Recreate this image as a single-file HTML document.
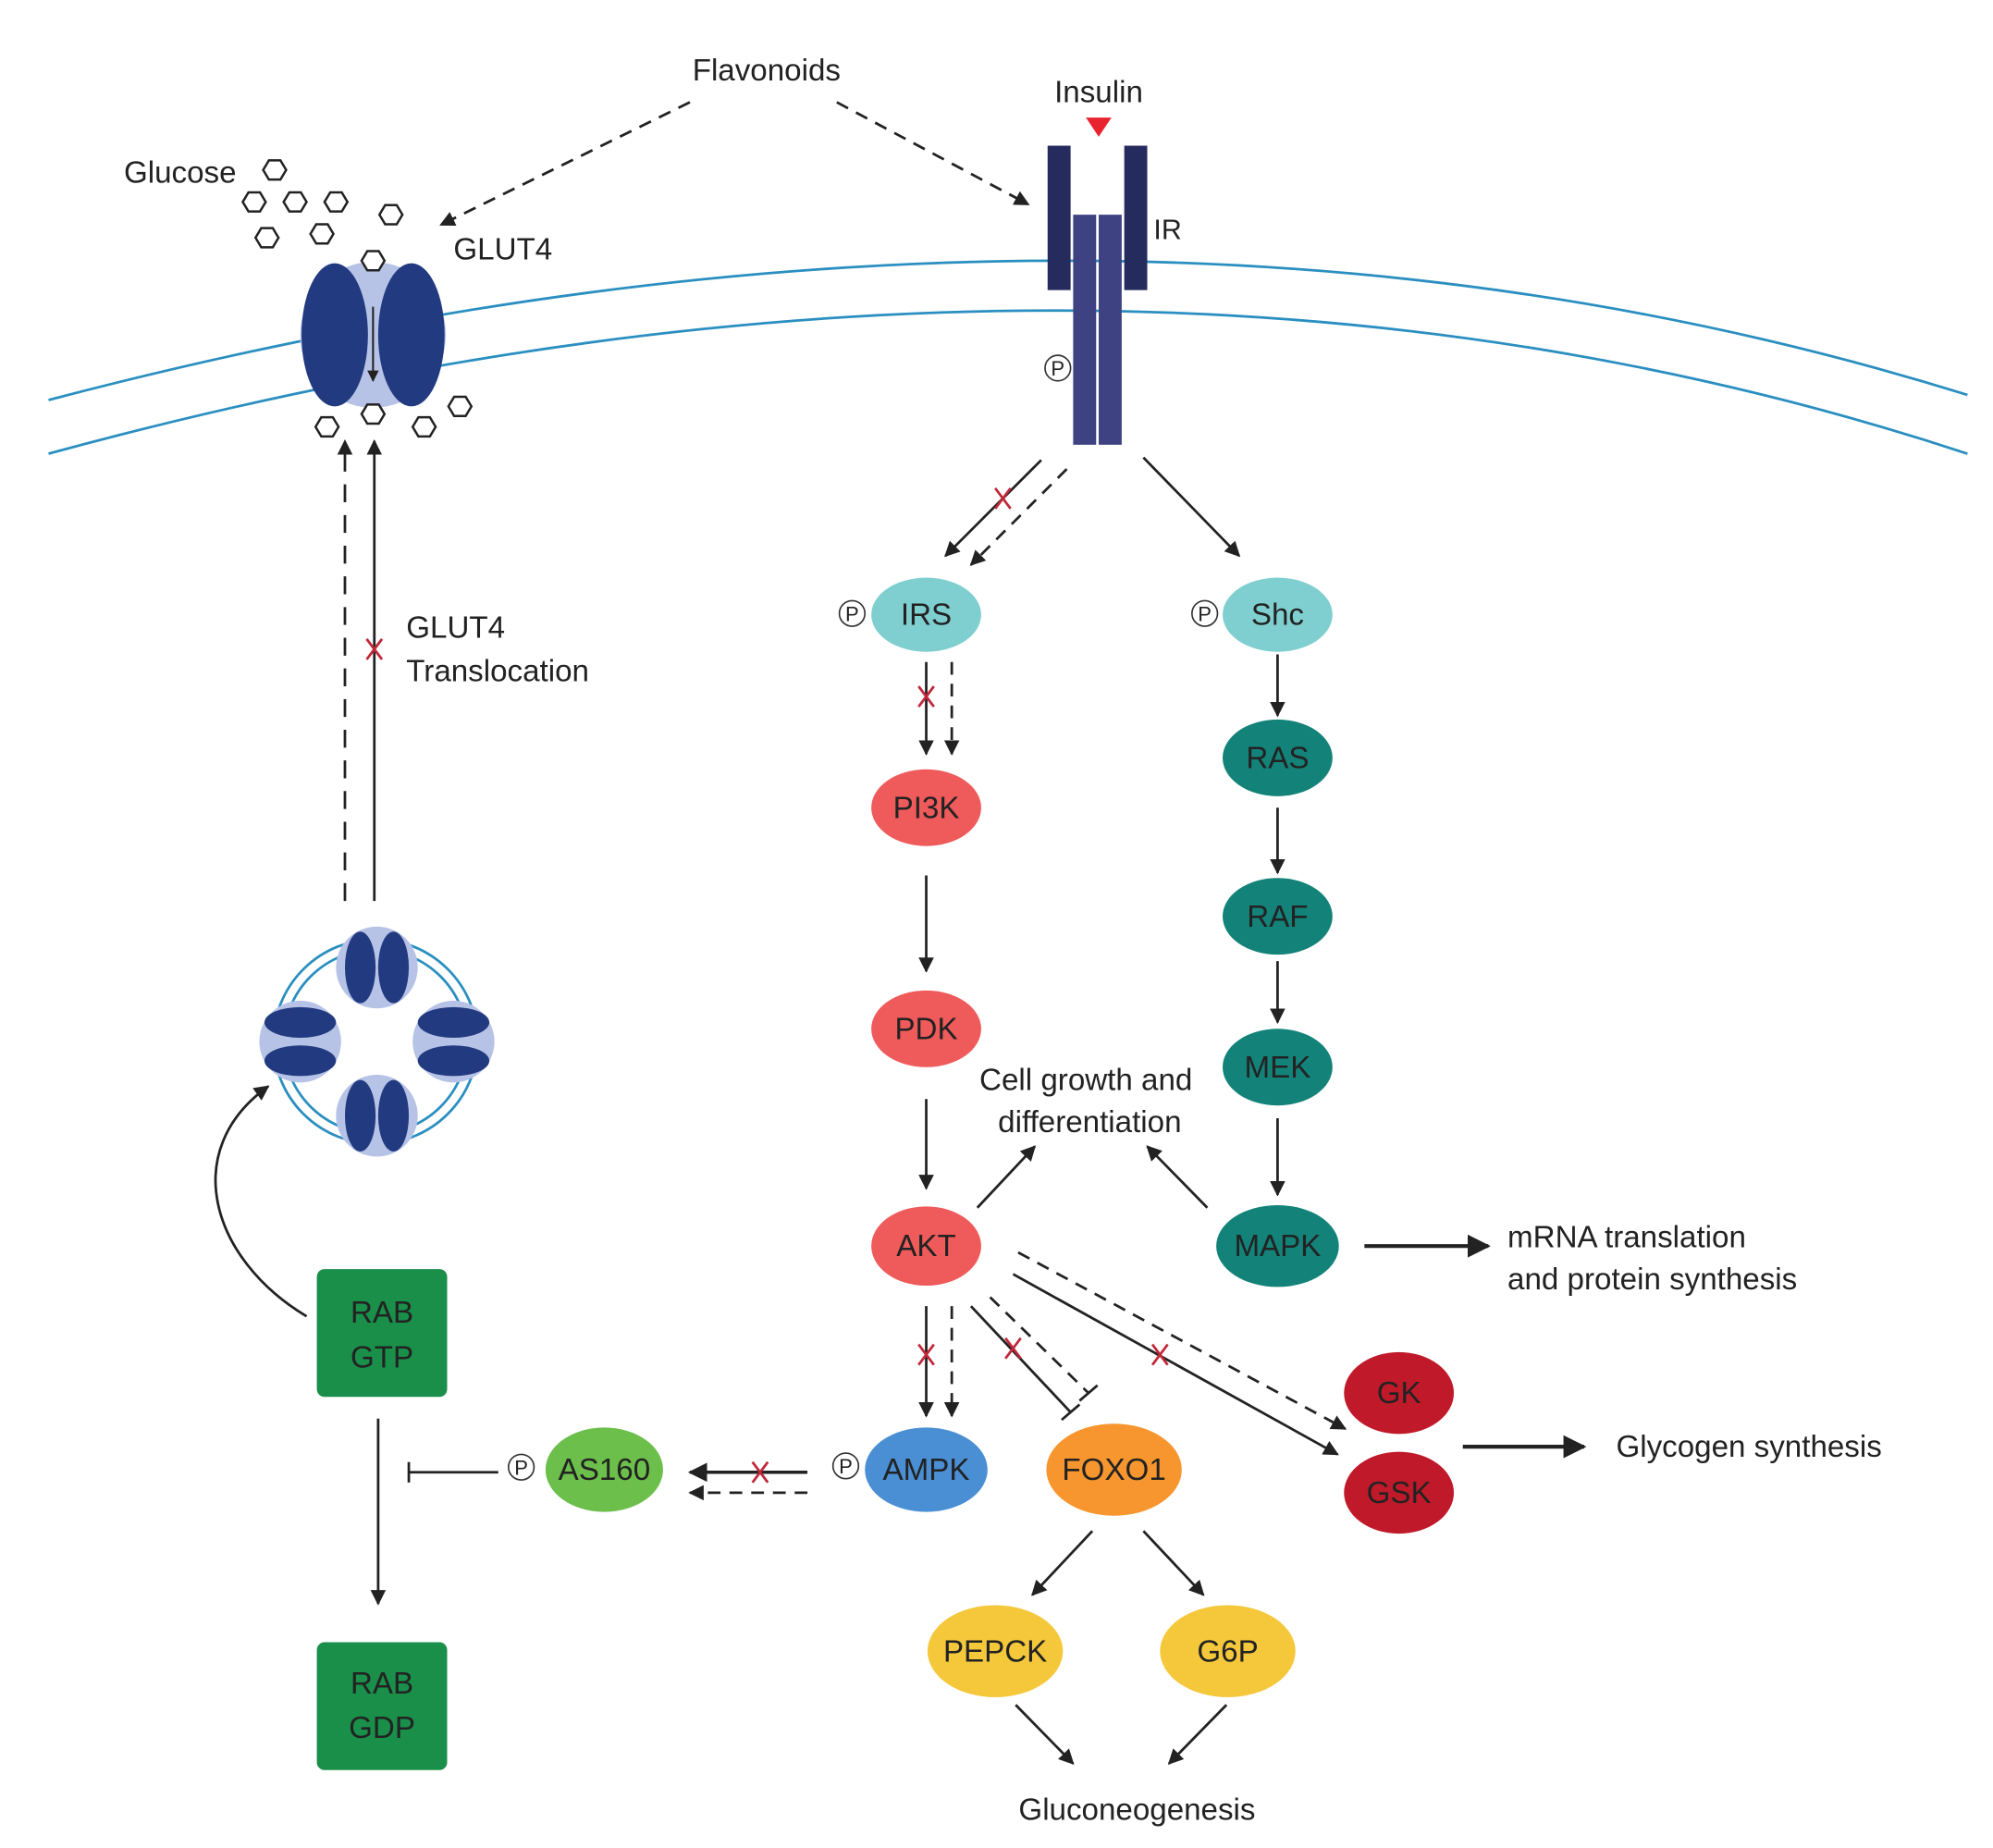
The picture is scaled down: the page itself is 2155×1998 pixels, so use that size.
<!DOCTYPE html>
<html><head><meta charset="utf-8"><style>
html,body{margin:0;padding:0;background:#fff;}
svg{display:block}
text{font-family:"Liberation Sans Narrow","Liberation Sans",sans-serif;fill:#222;}
</style></head><body>
<svg width="2155" height="1998" viewBox="0 0 1560 1446" preserveAspectRatio="none" xmlns="http://www.w3.org/2000/svg">
<defs>
<marker id="a" viewBox="0 0 10 10" refX="9" refY="5" markerWidth="6" markerHeight="6" orient="auto-start-reverse"><path d="M0,0 L10,5 L0,10 z" fill="#222"/></marker>
<g id="hex"><polygon points="-9,0 -4.5,-7.5 4.5,-7.5 9,0 4.5,7.5 -4.5,7.5" fill="#fff" stroke="#222" stroke-width="1.8"/></g>
<g id="P"><circle r="10" fill="#fff" stroke="#333" stroke-width="1.2"/><text y="6" text-anchor="middle" font-size="16">P</text></g>
<g id="X"><path d="M-6,-8 L6,8 M6,-8 L-6,8" stroke="#c0283a" stroke-width="2"/></g>
</defs>

<!-- membrane -->
<path d="M38,313 Q860,97 1540,309" fill="none" stroke="#2a8fc0" stroke-width="2"/>
<path d="M38,355 Q860,131 1540,355" fill="none" stroke="#2a8fc0" stroke-width="2"/>

<text x="600" y="63" text-anchor="middle" font-size="24">Flavonoids</text>
<text x="860" y="80" text-anchor="middle" font-size="24">Insulin</text>
<polygon points="850,92 870,92 860,107" fill="#e8222e"/>
<text x="97" y="143" font-size="24">Glucose</text>
<text x="355" y="203" font-size="24">GLUT4</text>
<text x="903" y="187" font-size="22">IR</text>

<line x1="540" y1="80" x2="345" y2="176" stroke="#222" stroke-width="2" stroke-dasharray="10,7" marker-end="url(#a)"/>
<line x1="655" y1="80" x2="805" y2="160" stroke="#222" stroke-width="2" stroke-dasharray="10,7" marker-end="url(#a)"/>

<!-- IR -->
<rect x="820" y="114" width="18" height="113" fill="#262b5e"/>
<rect x="880" y="114" width="18" height="113" fill="#262b5e"/>
<rect x="840" y="168" width="18" height="180" fill="#3e4282"/>
<rect x="860" y="168" width="18" height="180" fill="#3e4282"/>
<use href="#P" x="828" y="288"/>

<!-- GLUT4 transporter -->
<circle cx="292" cy="262" r="57" fill="#b7c3e6"/>
<ellipse cx="262" cy="262" rx="26" ry="56" fill="#223a80"/>
<ellipse cx="322" cy="262" rx="26" ry="56" fill="#223a80"/>
<line x1="292" y1="240" x2="292" y2="298" stroke="#222" stroke-width="1.5" marker-end="url(#a)"/>
<use href="#hex" x="215" y="133"/><use href="#hex" x="199" y="158"/><use href="#hex" x="231" y="158"/><use href="#hex" x="263" y="158"/>
<use href="#hex" x="306" y="168"/><use href="#hex" x="209" y="186"/><use href="#hex" x="252" y="183"/><use href="#hex" x="292" y="204"/>
<use href="#hex" x="256" y="334"/><use href="#hex" x="292" y="324"/><use href="#hex" x="332" y="334"/><use href="#hex" x="360" y="318"/>

<!-- translocation -->
<line x1="270" y1="705" x2="270" y2="345" stroke="#222" stroke-width="2" stroke-dasharray="14,10" marker-end="url(#a)"/>
<line x1="293" y1="705" x2="293" y2="345" stroke="#222" stroke-width="2" marker-end="url(#a)"/>
<use href="#X" x="293" y="508"/>
<text x="318" y="499" font-size="24">GLUT4</text>
<text x="318" y="533" font-size="24">Translocation</text>

<!-- vesicle -->
<circle cx="294" cy="815" r="80" fill="none" stroke="#2a8fc0" stroke-width="2"/>
<circle cx="294" cy="815" r="72" fill="none" stroke="#2a8fc0" stroke-width="2"/>
<circle cx="295" cy="757" r="32" fill="#b7c3e6"/><ellipse cx="282" cy="757" rx="12" ry="28" fill="#223a80"/><ellipse cx="308" cy="757" rx="12" ry="28" fill="#223a80"/>
<circle cx="295" cy="873" r="32" fill="#b7c3e6"/><ellipse cx="282" cy="873" rx="12" ry="28" fill="#223a80"/><ellipse cx="308" cy="873" rx="12" ry="28" fill="#223a80"/>
<circle cx="235" cy="815" r="32" fill="#b7c3e6"/><ellipse cx="235" cy="800" rx="28" ry="12" fill="#223a80"/><ellipse cx="235" cy="830" rx="28" ry="12" fill="#223a80"/>
<circle cx="355" cy="815" r="32" fill="#b7c3e6"/><ellipse cx="355" cy="800" rx="28" ry="12" fill="#223a80"/><ellipse cx="355" cy="830" rx="28" ry="12" fill="#223a80"/>

<path d="M240,1030 C165,985 140,900 210,850" fill="none" stroke="#222" stroke-width="2" marker-end="url(#a)"/>

<rect x="248" y="993" width="102" height="100" rx="6" fill="#1a8f4a"/>
<text x="299" y="1035" text-anchor="middle" font-size="24">RAB</text>
<text x="299" y="1070" text-anchor="middle" font-size="24">GTP</text>
<rect x="248" y="1285" width="102" height="100" rx="6" fill="#1a8f4a"/>
<text x="299" y="1325" text-anchor="middle" font-size="24">RAB</text>
<text x="299" y="1360" text-anchor="middle" font-size="24">GDP</text>
<line x1="296" y1="1110" x2="296" y2="1255" stroke="#222" stroke-width="2" marker-end="url(#a)"/>
<line x1="390" y1="1152" x2="320" y2="1152" stroke="#222" stroke-width="2"/>
<line x1="320" y1="1144" x2="320" y2="1160" stroke="#222" stroke-width="2"/>

<!-- nodes -->
<g font-size="24">
<ellipse cx="725" cy="481" rx="43" ry="29" fill="#7fcfd0"/><text x="725" y="489" text-anchor="middle">IRS</text>
<use href="#P" x="667" y="480"/>
<ellipse cx="1000" cy="481" rx="43" ry="29" fill="#7fcfd0"/><text x="1000" y="489" text-anchor="middle">Shc</text>
<use href="#P" x="943" y="480"/>
<ellipse cx="725" cy="632" rx="43" ry="30" fill="#ef5a5a"/><text x="725" y="640" text-anchor="middle">PI3K</text>
<ellipse cx="725" cy="805" rx="43" ry="30" fill="#ef5a5a"/><text x="725" y="813" text-anchor="middle">PDK</text>
<ellipse cx="725" cy="975" rx="43" ry="31" fill="#ef5a5a"/><text x="725" y="983" text-anchor="middle">AKT</text>
<ellipse cx="1000" cy="593" rx="43" ry="30" fill="#13837a"/><text x="1000" y="601" text-anchor="middle">RAS</text>
<ellipse cx="1000" cy="717" rx="43" ry="30" fill="#13837a"/><text x="1000" y="725" text-anchor="middle">RAF</text>
<ellipse cx="1000" cy="835" rx="43" ry="30" fill="#13837a"/><text x="1000" y="843" text-anchor="middle">MEK</text>
<ellipse cx="1000" cy="975" rx="48" ry="32" fill="#13837a"/><text x="1000" y="983" text-anchor="middle">MAPK</text>
<ellipse cx="473" cy="1150" rx="46" ry="33" fill="#6cbf4a"/><text x="473" y="1158" text-anchor="middle">AS160</text>
<use href="#P" x="408" y="1148"/>
<ellipse cx="725" cy="1150" rx="48" ry="33" fill="#4a8fd4"/><text x="725" y="1158" text-anchor="middle">AMPK</text>
<use href="#P" x="662" y="1147"/>
<ellipse cx="872" cy="1150" rx="53" ry="36" fill="#f7962e"/><text x="872" y="1158" text-anchor="middle">FOXO1</text>
<ellipse cx="1095" cy="1090" rx="43" ry="32" fill="#c01a2a"/><text x="1095" y="1098" text-anchor="middle">GK</text>
<ellipse cx="1095" cy="1168" rx="43" ry="32" fill="#c01a2a"/><text x="1095" y="1176" text-anchor="middle">GSK</text>
<ellipse cx="779" cy="1292" rx="53" ry="36" fill="#f5c83c"/><text x="779" y="1300" text-anchor="middle">PEPCK</text>
<ellipse cx="961" cy="1292" rx="53" ry="36" fill="#f5c83c"/><text x="961" y="1300" text-anchor="middle">G6P</text>
<text x="850" y="853" text-anchor="middle">Cell growth and</text>
<text x="853" y="886" text-anchor="middle">differentiation</text>
<text x="1180" y="976">mRNA translation</text>
<text x="1180" y="1009">and protein synthesis</text>
<text x="1265" y="1140">Glycogen synthesis</text>
<text x="890" y="1424" text-anchor="middle">Gluconeogenesis</text>
</g>

<!-- connectors -->
<g stroke="#222" stroke-width="2" fill="none">
<line x1="815" y1="360" x2="740" y2="435" marker-end="url(#a)"/>
<line x1="835" y1="367" x2="760" y2="442" stroke-dasharray="10,7" marker-end="url(#a)"/>
<line x1="895" y1="358" x2="970" y2="435" marker-end="url(#a)"/>
<line x1="725" y1="518" x2="725" y2="590" marker-end="url(#a)"/>
<line x1="745" y1="518" x2="745" y2="590" stroke-dasharray="10,7" marker-end="url(#a)"/>
<line x1="725" y1="685" x2="725" y2="760" marker-end="url(#a)"/>
<line x1="725" y1="860" x2="725" y2="930" marker-end="url(#a)"/>
<line x1="1000" y1="512" x2="1000" y2="560" marker-end="url(#a)"/>
<line x1="1000" y1="632" x2="1000" y2="683" marker-end="url(#a)"/>
<line x1="1000" y1="752" x2="1000" y2="800" marker-end="url(#a)"/>
<line x1="1000" y1="875" x2="1000" y2="935" marker-end="url(#a)"/>
<line x1="765" y1="945" x2="810" y2="897" marker-end="url(#a)"/>
<line x1="945" y1="945" x2="898" y2="897" marker-end="url(#a)"/>
<line x1="1068" y1="975" x2="1165" y2="975" stroke-width="3" marker-end="url(#a)"/>
<line x1="725" y1="1022" x2="725" y2="1108" marker-end="url(#a)"/>
<line x1="745" y1="1022" x2="745" y2="1108" stroke-dasharray="10,7" marker-end="url(#a)"/>
<line x1="760" y1="1022" x2="838" y2="1105"/>
<line x1="831" y1="1111" x2="845" y2="1099"/>
<line x1="775" y1="1015" x2="852" y2="1090" stroke-dasharray="10,7"/>
<line x1="845" y1="1096" x2="859" y2="1084"/>
<line x1="793" y1="997" x2="1047" y2="1138" marker-end="url(#a)"/>
<line x1="797" y1="980" x2="1053" y2="1118" stroke-dasharray="10,7" marker-end="url(#a)"/>
<line x1="1145" y1="1132" x2="1240" y2="1132" stroke-width="3" marker-end="url(#a)"/>
<line x1="632" y1="1152" x2="540" y2="1152" stroke-width="2.5" marker-end="url(#a)"/>
<line x1="632" y1="1168" x2="540" y2="1168" stroke-dasharray="10,7" marker-end="url(#a)"/>
<line x1="855" y1="1198" x2="808" y2="1248" marker-end="url(#a)"/>
<line x1="895" y1="1198" x2="942" y2="1248" marker-end="url(#a)"/>
<line x1="795" y1="1334" x2="840" y2="1380" marker-end="url(#a)"/>
<line x1="960" y1="1334" x2="915" y2="1380" marker-end="url(#a)"/>
</g>
<use href="#X" x="785" y="390"/>
<use href="#X" x="725" y="545"/>
<use href="#X" x="725" y="1060"/>
<use href="#X" x="793" y="1055"/>
<use href="#X" x="908" y="1060"/>
<use href="#X" x="595" y="1152"/>
</svg>
</body></html>
